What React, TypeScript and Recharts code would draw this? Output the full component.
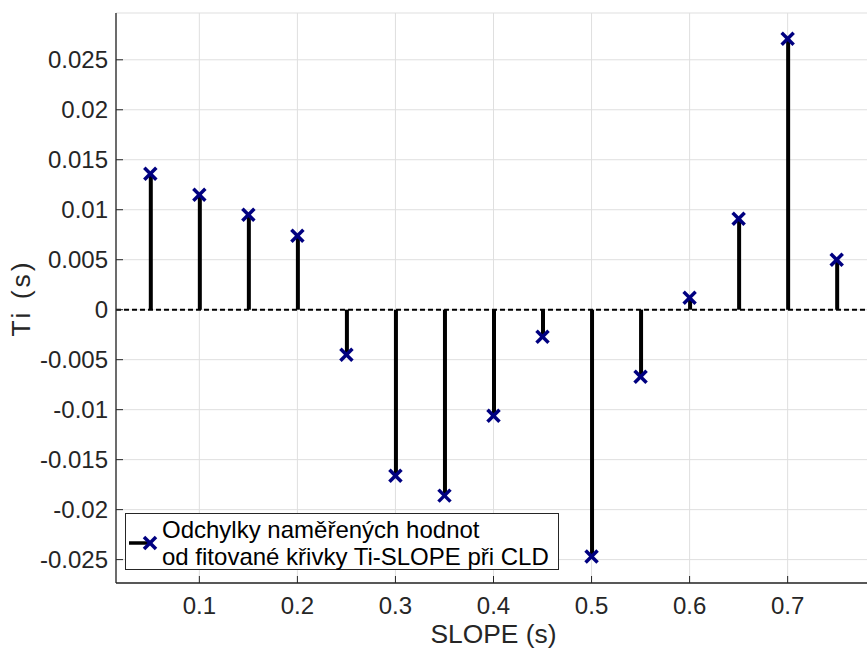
import React from "react";
import {
  ComposedChart,
  Bar,
  Scatter,
  XAxis,
  YAxis,
  CartesianGrid,
  ReferenceLine,
} from "recharts";

// stem plot data
const slopes = [0.05, 0.1, 0.15, 0.2, 0.25, 0.3, 0.35, 0.4, 0.45, 0.5, 0.55, 0.6, 0.65, 0.7, 0.75];
const deviations = [
  0.0136, 0.0115, 0.0095, 0.0074, -0.0045, -0.0166, -0.0186, -0.0106, -0.0027, -0.0247,
  -0.0067, 0.0012, 0.0091, 0.0271, 0.005,
];
const xTicks = [0.1, 0.2, 0.3, 0.4, 0.5, 0.6, 0.7];
const yTicks = [-0.025, -0.02, -0.015, -0.01, -0.005, 0, 0.005, 0.01, 0.015, 0.02, 0.025];
const xDomain: [number, number] = [0.015, 0.785];
const yDomain: [number, number] = [-0.02734, 0.02968];
const legendLines = ["Odchylky naměřených hodnot", "od fitované křivky Ti-SLOPE při CLD"];

const data = slopes.map((s, i) => ({ slope: s, dev: deviations[i] }));

const FONT = "'Liberation Sans', Arial, Helvetica, sans-serif";
const TEXT = "#262626";
const AXIS = "#262626";
const NAVY = "#000080";
const TICK_LEN = 7;

const fmtY = (v: number) => (v === 0 ? "0" : String(Number(v.toFixed(3))));

function XTick(props: any) {
  const { x, y, payload } = props;
  return (
    <g>
      <line x1={x} x2={x} y1={y - 14} y2={y - 14 - TICK_LEN} stroke={AXIS} strokeWidth={1} />
      <text x={x} y={y} dy="0.71em" textAnchor="middle" fill={TEXT} fontSize={24} fontFamily={FONT}>
        {payload.value}
      </text>
    </g>
  );
}

function YTick(props: any) {
  const { x, y, payload } = props;
  return (
    <g>
      <line x1={x + 8} x2={x + 8 + TICK_LEN} y1={y} y2={y} stroke={AXIS} strokeWidth={1} />
      <text x={x} y={y} dy="0.355em" textAnchor="end" fill={TEXT} fontSize={24} fontFamily={FONT}>
        {fmtY(payload.value)}
      </text>
    </g>
  );
}

function TopTick(props: any) {
  const { x, y } = props;
  return <line x1={x} x2={x} y1={y} y2={y + TICK_LEN} stroke={AXIS} strokeWidth={1} />;
}

function RightTick(props: any) {
  const { x, y } = props;
  return <line x1={x - TICK_LEN} x2={x} y1={y} y2={y} stroke={AXIS} strokeWidth={1} />;
}

function Cross(props: any) {
  const { cx, cy } = props;
  const r = 6;
  return (
    <g stroke={NAVY} strokeWidth={3.5} strokeLinecap="butt">
      <line x1={cx - r} y1={cy - r} x2={cx + r} y2={cy + r} />
      <line x1={cx - r} y1={cy + r} x2={cx + r} y2={cy - r} />
    </g>
  );
}

function XLabel(props: any) {
  const { viewBox } = props;
  return (
    <text
      x={viewBox.x + viewBox.width / 2}
      y={viewBox.y + 51}
      dy="0.355em"
      textAnchor="middle"
      fill={TEXT}
      fontSize={26.4}
      fontFamily={FONT}
    >
      SLOPE (s)
    </text>
  );
}

function YLabel(props: any) {
  const { viewBox } = props;
  const cx = 21;
  const cy = viewBox.y + viewBox.height / 2;
  return (
    <text
      x={cx}
      y={cy}
      dy="0.355em"
      textAnchor="middle"
      transform={`rotate(-90 ${cx} ${cy})`}
      fill={TEXT}
      fontSize={26.4}
      fontFamily={FONT}
      letterSpacing={3}
    >
      Ti (s)
    </text>
  );
}

export default function App() {
  return (
    <div style={{ position: "absolute", left: 0, top: 0, width: 867, height: 651, overflow: "hidden", background: "#fff" }}>
      <ComposedChart
        width={871}
        height={651}
        data={data}
        margin={{ top: 13, right: 0, bottom: 0, left: 0 }}
      >
        <CartesianGrid stroke="#dfdfdf" strokeWidth={1} />
        <XAxis
          dataKey="slope"
          type="number"
          domain={xDomain}
          ticks={xTicks}
          allowDataOverflow
          height={68}
          tickSize={0}
          tickMargin={14}
          tickLine={false}
          axisLine={{ stroke: AXIS, strokeWidth: 1.3 }}
          tick={<XTick />}
          label={<XLabel />}
        />
        <XAxis
          xAxisId="top"
          orientation="top"
          type="number"
          domain={xDomain}
          ticks={xTicks}
          allowDataOverflow
          height={0}
          tickSize={0}
          tickMargin={0}
          tickLine={false}
          axisLine={{ stroke: AXIS, strokeWidth: 1.3 }}
          tick={<TopTick />}
        />
        <YAxis
          type="number"
          domain={yDomain}
          ticks={yTicks}
          allowDataOverflow
          width={116}
          tickSize={0}
          tickMargin={8}
          tickLine={false}
          axisLine={{ stroke: AXIS, strokeWidth: 1.3 }}
          tick={<YTick />}
          label={<YLabel />}
        />
        <YAxis
          yAxisId="right"
          orientation="right"
          type="number"
          domain={yDomain}
          ticks={yTicks}
          allowDataOverflow
          width={0}
          tickSize={0}
          tickMargin={0}
          tickLine={false}
          axisLine={{ stroke: AXIS, strokeWidth: 1.3 }}
          tick={<RightTick />}
        />
        <ReferenceLine y={0} stroke="#000" strokeWidth={2} strokeDasharray="5 3" />
        <Bar dataKey="dev" barSize={4} fill="#000" isAnimationActive={false} />
        <Scatter dataKey="dev" shape={<Cross />} isAnimationActive={false} />
      </ComposedChart>
      <div
        style={{
          position: "absolute",
          left: 125,
          top: 513,
          width: 434,
          height: 57,
          border: "1px solid #262626",
          background: "#fff",
          fontFamily: FONT,
          fontSize: 24,
          color: "#000",
          boxSizing: "border-box",
        }}
      >
        <svg width={36} height={57} style={{ position: "absolute", left: 2, top: 0 }}>
          <line x1={1} x2={20} y1={29} y2={29} stroke="#000" strokeWidth={3.5} />
          <Cross cx={22} cy={29} />
        </svg>
        <div style={{ position: "absolute", left: 36, top: 2, lineHeight: "27px", whiteSpace: "nowrap" }}>
          {legendLines.map((l) => (
            <div key={l}>{l}</div>
          ))}
        </div>
      </div>
    </div>
  );
}
